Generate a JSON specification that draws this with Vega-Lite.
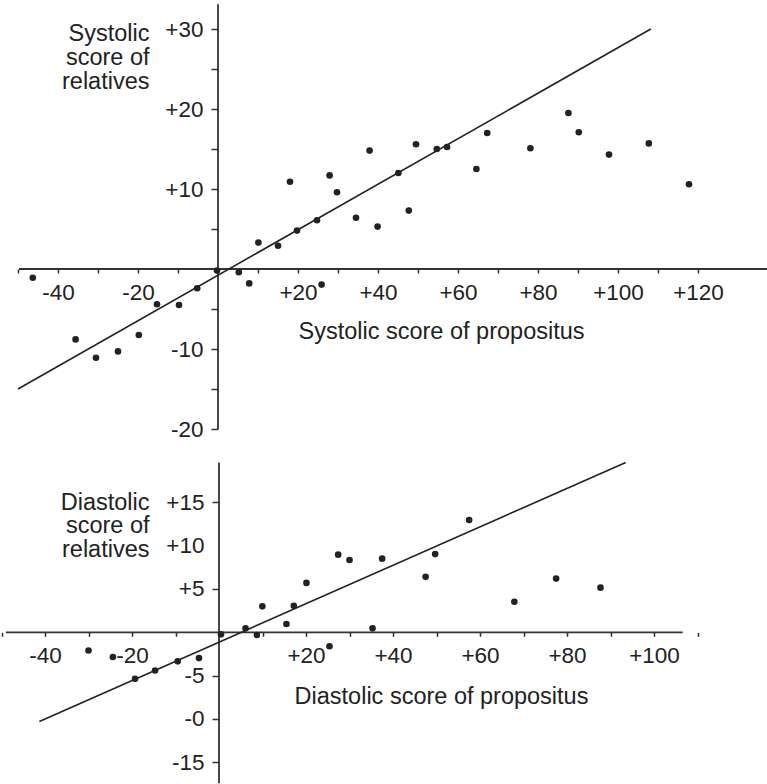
{
  "$schema": "https://vega.github.io/schema/vega-lite/v6.json",
  "background": "white",
  "padding": 0,
  "spacing": 7,
  "bounds": "flush",
  "config": {
    "view": {"stroke": null},
    "axis": {
      "labelFont": "Liberation Sans",
      "labelFontSize": 22.5,
      "labelColor": "#222",
      "titleFont": "Liberation Sans",
      "titleFontSize": 23.5,
      "titleFontWeight": "normal",
      "titleColor": "#222",
      "tickColor": "#333",
      "tickWidth": 1.5,
      "domain": false,
      "grid": false,
      "labelFlush": false,
      "labelOverlap": false,
      "labelBound": false
    }
  },
  "datasets": {
    "top_points": [
      {"x": -46.3, "y": -1.1}, {"x": -35.6, "y": -8.8}, {"x": -30.5, "y": -11.1}, {"x": -25.0, "y": -10.3},
      {"x": -19.8, "y": -8.25}, {"x": -15.25, "y": -4.4}, {"x": -9.75, "y": -4.5}, {"x": -5.2, "y": -2.4},
      {"x": -0.25, "y": -0.2}, {"x": 5.2, "y": -0.4}, {"x": 7.8, "y": -1.8}, {"x": 10.1, "y": 3.3},
      {"x": 15.0, "y": 2.9}, {"x": 25.9, "y": -1.95}, {"x": 18.0, "y": 10.9}, {"x": 19.75, "y": 4.8},
      {"x": 24.75, "y": 6.1}, {"x": 27.9, "y": 11.7}, {"x": 29.75, "y": 9.6}, {"x": 34.5, "y": 6.4},
      {"x": 37.9, "y": 14.8}, {"x": 39.9, "y": 5.3}, {"x": 45.1, "y": 12.0}, {"x": 47.7, "y": 7.3},
      {"x": 49.5, "y": 15.6}, {"x": 54.7, "y": 15.0}, {"x": 57.25, "y": 15.25}, {"x": 64.6, "y": 12.5},
      {"x": 67.3, "y": 17.0}, {"x": 78.1, "y": 15.1}, {"x": 87.6, "y": 19.5}, {"x": 90.2, "y": 17.1},
      {"x": 97.75, "y": 14.3}, {"x": 107.7, "y": 15.7}, {"x": 117.75, "y": 10.6}
    ],
    "top_fit": [{"x": -50, "y": -15}, {"x": 108.2, "y": 30}],
    "top_axes": [
      {"x": -49.75, "y": 0, "xe": 137.25, "ye": 0},
      {"x": 0, "y": -20, "xe": 0, "ye": 33.1}
    ],
    "bottom_points": [
      {"x": -30.0, "y": -2.1}, {"x": -24.4, "y": -2.85}, {"x": -19.3, "y": -5.35}, {"x": -14.7, "y": -4.4},
      {"x": -9.5, "y": -3.35}, {"x": -4.6, "y": -2.97}, {"x": 0.46, "y": -0.23}, {"x": 6.1, "y": 0.46},
      {"x": 8.7, "y": -0.31}, {"x": 9.96, "y": 3.0}, {"x": 15.5, "y": 0.96}, {"x": 17.2, "y": 3.07},
      {"x": 20.1, "y": 5.7}, {"x": 25.4, "y": -1.6}, {"x": 27.4, "y": 8.96}, {"x": 30.0, "y": 8.34},
      {"x": 35.3, "y": 0.46}, {"x": 37.5, "y": 8.5}, {"x": 47.5, "y": 6.4}, {"x": 49.7, "y": 9.03},
      {"x": 57.5, "y": 12.96}, {"x": 67.9, "y": 3.53}, {"x": 77.5, "y": 6.2}, {"x": 87.7, "y": 5.15}
    ],
    "bottom_fit": [{"x": -41.3, "y": -10.3}, {"x": 93.5, "y": 19.6}],
    "bottom_axes": [
      {"x": -49, "y": 0, "xe": 106.6, "ye": 0},
      {"x": 0, "y": -17.4, "xe": 0, "ye": 19.6}
    ]
  },
  "vconcat": [
    {
      "width": 767,
      "height": 445,
      "encoding": {
        "x": {
          "field": "x", "type": "quantitative",
          "scale": {"domain": [-54.5, 137.25], "nice": false, "zero": false},
          "axis": {
            "values": [-50, -40, -30, -20, -10, 10, 20, 30, 40, 50, 60, 70, 80, 90, 100, 110, 120],
            "offset": -176,
            "tickSize": 4,
            "labelPadding": 8,
            "labelExpr": "datum.value % 20 == 0 ? (datum.value > 0 ? '+' + datum.value : '' + datum.value) : ''",
            "title": "Systolic score of propositus",
            "titleX": 441, "titleY": 69,
            "titleAlign": "center", "titleBaseline": "alphabetic"
          }
        },
        "y": {
          "field": "y", "type": "quantitative",
          "scale": {"domain": [-22, 33.625], "nice": false, "zero": false},
          "axis": {
            "values": [-20, -15, -10, -5, 5, 10, 15, 20, 25, 30],
            "offset": -218,
            "tickSize": 7,
            "labelPadding": 8,
            "labelExpr": "datum.value % 10 == 0 ? (datum.value > 0 ? '+' + datum.value : '' + datum.value) : ''",
            "title": ["Systolic", "score of", "relatives"],
            "titleAngle": 0, "titleAlign": "right", "titleBaseline": "alphabetic",
            "titleX": -69, "titleY": 40, "titleLineHeight": 24
          }
        }
      },
      "layer": [
        {
          "data": {"name": "top_axes"},
          "mark": {"type": "rule", "color": "#333", "strokeWidth": 1.8},
          "encoding": {"x2": {"field": "xe"}, "y2": {"field": "ye"}}
        },
        {
          "data": {"name": "top_fit"},
          "mark": {"type": "line", "color": "#222", "strokeWidth": 1.6},
          "encoding": {}
        },
        {
          "data": {"name": "top_points"},
          "mark": {"type": "circle", "color": "#222", "size": 44, "opacity": 1}
        }
      ]
    },
    {
      "width": 767,
      "height": 332,
      "encoding": {
        "x": {
          "field": "x", "type": "quantitative",
          "scale": {"domain": [-50.345, 125.977], "nice": false, "zero": false},
          "axis": {
            "values": [-50, -40, -30, -20, -10, 10, 20, 30, 40, 50, 60, 70, 80, 90, 100, 110],
            "offset": -151.67,
            "tickSize": 4,
            "labelPadding": 8,
            "labelExpr": "datum.value % 20 == 0 ? (datum.value > 0 ? '+' + datum.value : '' + datum.value) : ''",
            "title": "Diastolic score of propositus",
            "titleX": 441, "titleY": 71,
            "titleAlign": "center", "titleBaseline": "alphabetic"
          }
        },
        "y": {
          "field": "y", "type": "quantitative",
          "scale": {"domain": [-17.5, 20.806], "nice": false, "zero": false},
          "axis": {
            "values": [-15, -10, -5, 5, 10, 15],
            "offset": -219,
            "tickSize": 7,
            "labelPadding": 8,
            "tickOpacity": {"condition": {"test": "datum.value == 10", "value": 0}, "value": 1},
            "labelExpr": "datum.value == -10 ? '-0' : (datum.value > 0 ? '+' + datum.value : '' + datum.value)",
            "title": ["Diastolic", "score of", "relatives"],
            "titleAngle": 0, "titleAlign": "right", "titleBaseline": "alphabetic",
            "titleX": -70, "titleY": 57, "titleLineHeight": 23.5
          }
        }
      },
      "layer": [
        {
          "data": {"name": "bottom_axes"},
          "mark": {"type": "rule", "color": "#333", "strokeWidth": 1.8},
          "encoding": {"x2": {"field": "xe"}, "y2": {"field": "ye"}}
        },
        {
          "data": {"name": "bottom_fit"},
          "mark": {"type": "line", "color": "#222", "strokeWidth": 1.6},
          "encoding": {}
        },
        {
          "data": {"name": "bottom_points"},
          "mark": {"type": "circle", "color": "#222", "size": 44, "opacity": 1}
        }
      ]
    }
  ]
}
